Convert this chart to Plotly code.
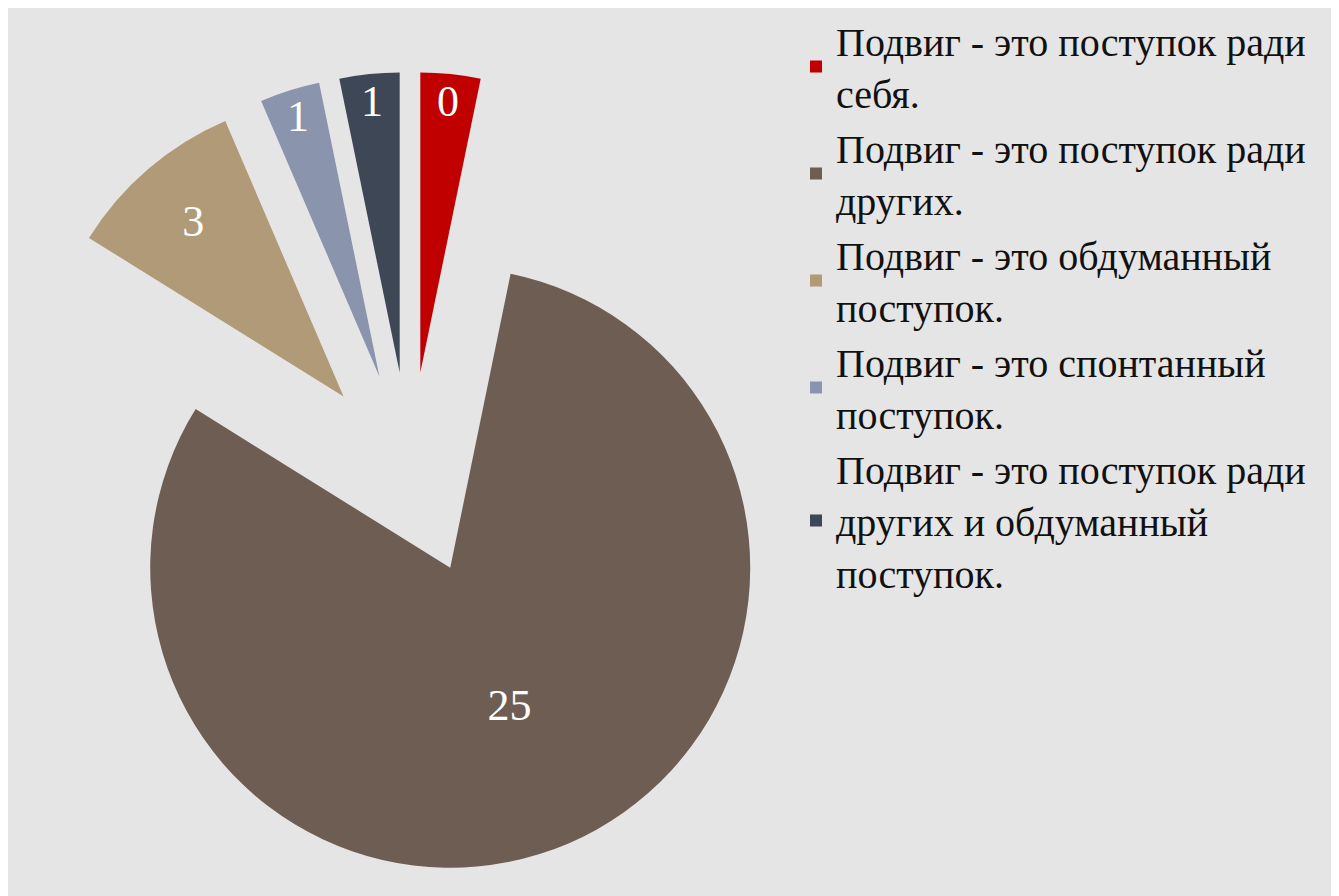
import plotly.graph_objects as go

# Categories (legend labels, with line breaks as in the original legend)
categories = [
    "Подвиг - это поступок ради<br>себя.",
    "Подвиг - это поступок ради<br>других.",
    "Подвиг - это обдуманный<br>поступок.",
    "Подвиг - это спонтанный<br>поступок.",
    "Подвиг - это поступок ради<br>других и обдуманный<br>поступок.",
]
# Slice sizes as drawn
values = [1, 25, 3, 1, 1]
# Data labels as printed on the slices
data_labels = ["0", "25", "3", "1", "1"]
colors = ["#c00000", "#6e5d53", "#b09a77", "#8a94ad", "#3d4756"]

# the page body adds an 8px margin, so the figure is 8px smaller than the window
W, H = 1331, 888
cx, cy, half = 402, 466, 402

fig = go.Figure(
    go.Pie(
        labels=categories,
        values=values,
        text=data_labels,
        textinfo="text",
        texttemplate="%{text}",
        textposition="inside",
        insidetextorientation="horizontal",
        insidetextfont=dict(family="Liberation Serif", size=44, color="white"),
        marker=dict(colors=colors, line=dict(width=0)),
        pull=[0.34] * len(values),
        sort=False,
        direction="clockwise",
        rotation=0,
        domain=dict(
            x=[(cx - half) / W, (cx + half) / W],
            y=[1 - (cy + half) / H, 1 - (cy - half) / H],
        ),
        hovertemplate="%{label}: %{value}<extra></extra>",
    )
)

fig.update_layout(
    width=W,
    height=H,
    margin=dict(l=0, r=0, t=0, b=0),
    paper_bgcolor="#e5e5e5",
    plot_bgcolor="#e5e5e5",
    showlegend=True,
    legend=dict(
        x=788 / W,
        y=1.0,
        xanchor="left",
        yanchor="top",
        font=dict(family="Liberation Serif", size=40, color="#111111"),
        bgcolor="rgba(0,0,0,0)",
        itemclick=False,
    ),
    uniformtext=dict(minsize=24, mode="show"),
)

fig.write_html("out.html")
